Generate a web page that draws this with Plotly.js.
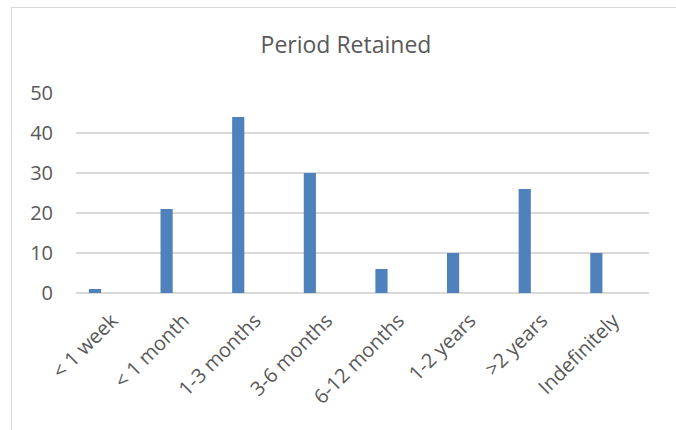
<!DOCTYPE html>
<html>
<head>
<meta charset="utf-8">
<script src="https://cdn.plot.ly/plotly-3.0.1.min.js"></script>
<style>
html,body{margin:0;padding:0;background:#fff;overflow:hidden;width:676px;height:430px;}
#frame{position:absolute;left:11px;top:7px;width:672px;height:430px;border:1.5px solid #d9d9d9;box-sizing:border-box;}
#chart{position:absolute;left:0;top:0;}
</style>
</head>
<body>
<div id="frame"><div id="chart"></div></div>
<script>
var categories = ["< 1 week", "< 1 month", "1-3 months", "3-6 months", "6-12 months", "1-2 years", ">2 years", "Indefinitely"];
var values = [1, 21, 44, 30, 6, 10, 26, 10];
var yTicks = [0, 10, 20, 30, 40, 50];
var chartTitle = "Period Retained";

var trace = {
  type: "bar",
  x: categories,
  y: values,
  width: 0.17,
  offset: -0.32,
  marker: {color: "#4f81bd", line: {width: 0}},
  hoverinfo: "x+y"
};

var FONT = "'Open Sans', 'Noto Sans', sans-serif";

var layout = {
  width: 670,
  height: 422,
  margin: {l: 64, r: 33, t: 85, b: 137, pad: 0},
  paper_bgcolor: "rgba(0,0,0,0)",
  plot_bgcolor: "rgba(0,0,0,0)",
  showlegend: false,
  font: {family: FONT, color: "#595959", size: 20},
  title: {
    text: chartTitle,
    font: {family: FONT, size: 23, color: "#595959"},
    xref: "container", x: 334/670, xanchor: "center",
    yref: "container", y: 1 - 37/422, yanchor: "middle"
  },
  xaxis: {
    type: "category",
    tickangle: -45,
    showgrid: false,
    showline: false,
    zeroline: false,
    ticks: "",
    ticklabelstandoff: 11,
    tickfont: {family: FONT, size: 20, color: "#595959"},
    range: [-0.5, 7.5]
  },
  yaxis: {
    range: [0, 50],
    tickvals: yTicks,
    ticktext: yTicks.map(String),
    showgrid: true,
    gridcolor: "#d9d9d9",
    gridwidth: 1.5,
    zeroline: true,
    zerolinecolor: "#d9d9d9",
    zerolinewidth: 1.5,
    showline: false,
    ticks: "",
    ticklabelstandoff: 22,
    tickfont: {family: FONT, size: 20, color: "#595959"}
  }
};

Plotly.newPlot("chart", [trace], layout, {displayModeBar: false, staticPlot: true});
</script>
</body>
</html>
